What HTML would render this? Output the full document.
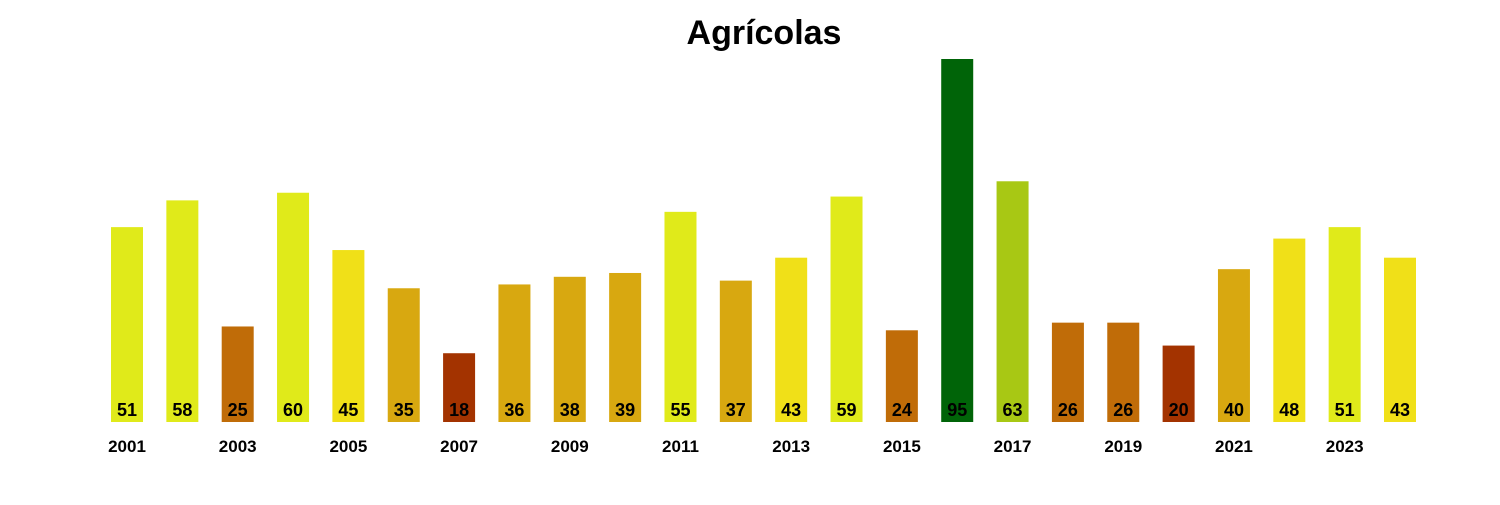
<!DOCTYPE html>
<html><head><meta charset="utf-8"><style>
body{margin:0;background:#fff;}
svg text{font-family:"Liberation Sans",Arial,sans-serif;font-weight:bold;}
</style></head><body>
<svg id="c" width="1500" height="500">
<text x="764" y="44" text-anchor="middle" font-size="34">Agrícolas</text>
<g id="bars"></g>
</svg>
<script>
const years=[2001,2002,2003,2004,2005,2006,2007,2008,2009,2010,2011,2012,2013,2014,2015,2016,2017,2018,2019,2020,2021,2022,2023,2024];
const values=[51,58,25,60,45,35,18,36,38,39,55,37,43,59,24,95,63,26,26,20,40,48,51,43];
const tickYears=[2001,2003,2005,2007,2009,2011,2013,2015,2017,2019,2021,2023];
const x0=127,step=(1400-127)/23,bw=32,base=422,k=363/95;
function xs(i){return x0+i*step;}
function ys(v){return base-v*k;}
function col(v){if(v>=90)return'#006408';if(v>=62)return'#a8c814';if(v>=50)return'#e0ea1a';if(v>=41)return'#f0e018';if(v>=30)return'#d8a810';if(v>=22)return'#c06c08';return'#a33300';}
const g=document.getElementById('bars');const ns='http://www.w3.org/2000/svg';
values.forEach((v,i)=>{
const r=document.createElementNS(ns,'rect');
r.setAttribute('x',xs(i)-bw/2);r.setAttribute('y',ys(v));r.setAttribute('width',bw);r.setAttribute('height',base-ys(v));r.setAttribute('fill',col(v));


g.appendChild(r);
const t=document.createElementNS(ns,'text');
t.setAttribute('x',xs(i));t.setAttribute('y',416);t.setAttribute('text-anchor','middle');t.setAttribute('font-size','18');t.textContent=v;


g.appendChild(t);
});
tickYears.forEach(y=>{
const i=years.indexOf(y);
const t=document.createElementNS(ns,'text');
t.setAttribute('x',xs(i));t.setAttribute('y',452);t.setAttribute('text-anchor','middle');t.setAttribute('font-size','17');t.textContent=y;


g.appendChild(t);
});
</script>
</body></html>
